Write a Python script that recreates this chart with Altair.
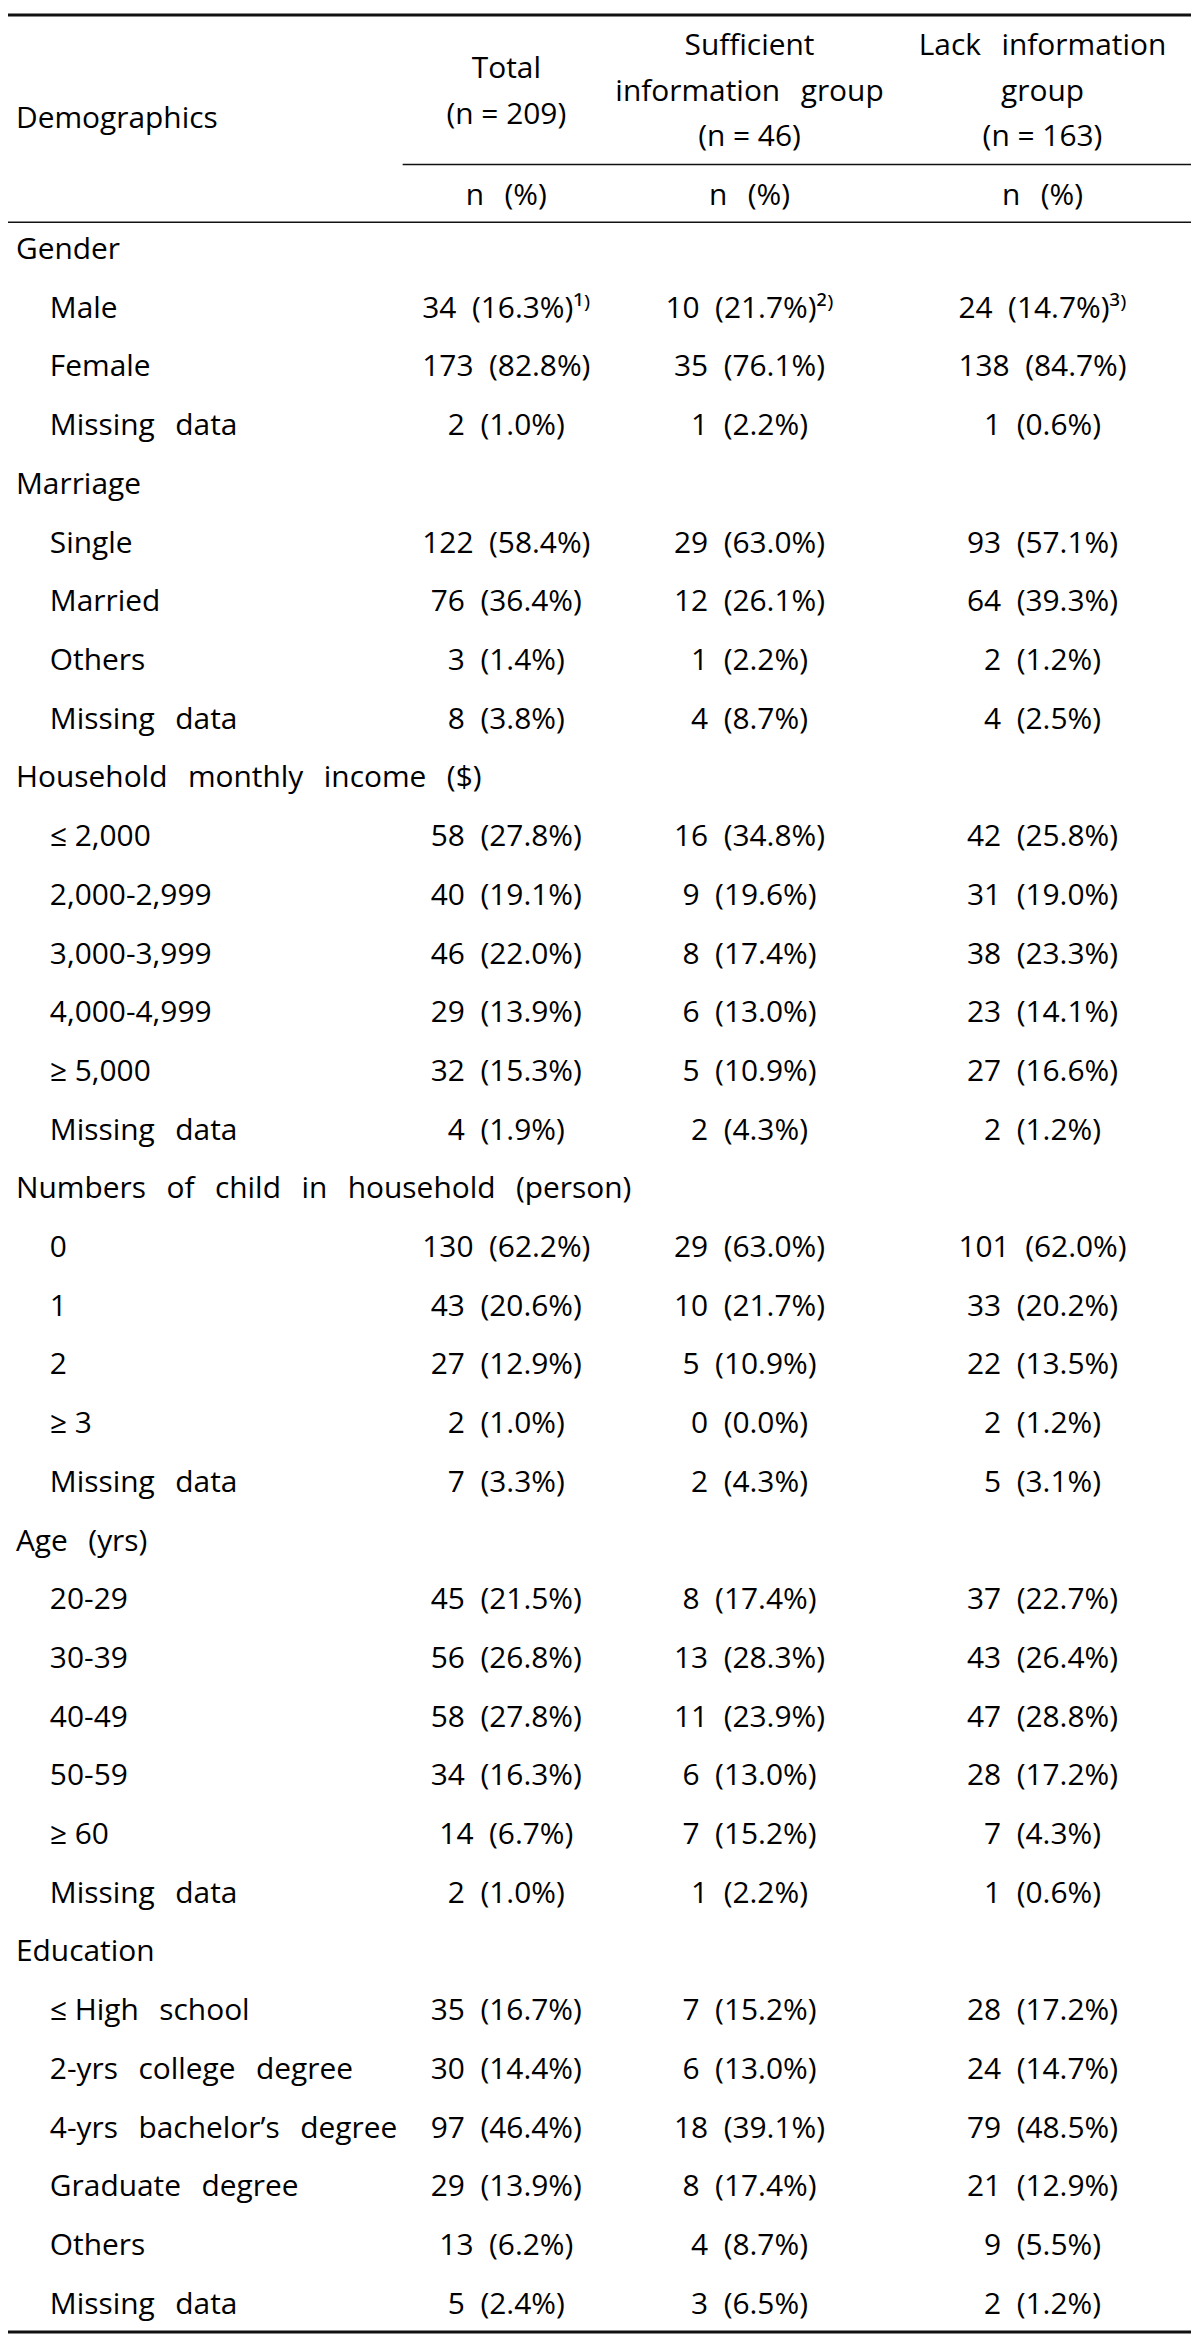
import altair as alt
import pandas as pd

# ---------------- data ----------------
labels = [
    "Gender", "Male", "Female", "Missing data",
    "Marriage", "Single", "Married", "Others", "Missing data",
    "Household monthly income ($)", "≤ 2,000", "2,000-2,999", "3,000-3,999", "4,000-4,999", "≥ 5,000", "Missing data",
    "Numbers of child in household (person)", "0", "1", "2", "≥ 3", "Missing data",
    "Age (yrs)", "20-29", "30-39", "40-49", "50-59", "≥ 60", "Missing data",
    "Education", "≤ High school", "2-yrs college degree", "4-yrs bachelor’s degree", "Graduate degree", "Others", "Missing data",
]
total_n = [None, 34, 173, 2, None, 122, 76, 3, 8, None, 58, 40, 46, 29, 32, 4, None, 130, 43, 27, 2, 7,
           None, 45, 56, 58, 34, 14, 2, None, 35, 30, 97, 29, 13, 5]
total_pct = [None, 16.3, 82.8, 1.0, None, 58.4, 36.4, 1.4, 3.8, None, 27.8, 19.1, 22.0, 13.9, 15.3, 1.9, None,
             62.2, 20.6, 12.9, 1.0, 3.3, None, 21.5, 26.8, 27.8, 16.3, 6.7, 1.0, None, 16.7, 14.4, 46.4, 13.9, 6.2, 2.4]
suff_n = [None, 10, 35, 1, None, 29, 12, 1, 4, None, 16, 9, 8, 6, 5, 2, None, 29, 10, 5, 0, 2,
          None, 8, 13, 11, 6, 7, 1, None, 7, 6, 18, 8, 4, 3]
suff_pct = [None, 21.7, 76.1, 2.2, None, 63.0, 26.1, 2.2, 8.7, None, 34.8, 19.6, 17.4, 13.0, 10.9, 4.3, None,
            63.0, 21.7, 10.9, 0.0, 4.3, None, 17.4, 28.3, 23.9, 13.0, 15.2, 2.2, None, 15.2, 13.0, 39.1, 17.4, 8.7, 6.5]
lack_n = [None, 24, 138, 1, None, 93, 64, 2, 4, None, 42, 31, 38, 23, 27, 2, None, 101, 33, 22, 2, 5,
          None, 37, 43, 47, 28, 7, 1, None, 28, 24, 79, 21, 9, 2]
lack_pct = [None, 14.7, 84.7, 0.6, None, 57.1, 39.3, 1.2, 2.5, None, 25.8, 19.0, 23.3, 14.1, 16.6, 1.2, None,
            62.0, 20.2, 13.5, 1.2, 3.1, None, 22.7, 26.4, 28.8, 17.2, 4.3, 0.6, None, 17.2, 14.7, 48.5, 12.9, 5.5, 1.2]
footnotes = {1: ["1)", "2)", "3)"]}

col_headers = [
    ["Total", "(n = 209)"],
    ["Sufficient", "information group", "(n = 46)"],
    ["Lack information", "group", "(n = 163)"],
]
unit_label = "n (%)"
stub_header = "Demographics"

# ---------------- layout ----------------
FONT = "Open Sans"
FS = 30
X_SECTION, X_ITEM = 16, 50
COL_X = [508, 752, 1046]
ROW0, ROW_STEP = 247, 58.9
W, H = 1188, 2329
SUP = {"1)": "¹⁾", "2)": "²⁾", "3)": "³⁾"}
NB = "\u00a0"
GAP = NB * 2 + "\u2009"


def wide(s):
    # wide word spacing between words; symbols keep a single space
    out = s
    for sym in ("≤ ", "≥ ", "= "):
        out = out.replace(sym, sym.strip() + "\u0001")
    out = out.replace(" =", "\u0002=")
    out = out.replace(" ", GAP).replace("\u0001", NB).replace("\u0002", NB)
    return out


label_rows, cell_rows = [], []
series = [(total_n, total_pct), (suff_n, suff_pct), (lack_n, lack_pct)]
for i, lab in enumerate(labels):
    y = ROW0 + i * ROW_STEP
    is_section = total_n[i] is None
    label_rows.append({"x": X_SECTION if is_section else X_ITEM, "y": y, "t": wide(lab)})
    if is_section:
        continue
    for c, (ns, ps) in enumerate(series):
        txt = f"{ns[i]}{NB * 2}({ps[i]:.1f}%)"
        if i in footnotes:
            txt += SUP[footnotes[i][c]]
        cell_rows.append({"x": COL_X[c], "y": y, "t": txt})

# header texts
hdr_center = []
line_y = {2: [65, 111], 3: [42, 88, 134]}
for c, lines in enumerate(col_headers):
    for k, ln in enumerate(lines):
        hdr_center.append({"x": COL_X[c], "y": line_y[len(lines)][k], "t": wide(ln)})
    hdr_center.append({"x": COL_X[c], "y": 193, "t": unit_label.replace(" ", GAP)})
label_rows.append({"x": X_SECTION, "y": 115, "t": stub_header})

rules = pd.DataFrame([
    {"x": 8, "x2": 1195, "y": 11, "w": 3},
    {"x": 404, "x2": 1195, "y": 161, "w": 1.5},
    {"x": 8, "x2": 1195, "y": 219, "w": 1.5},
    {"x": 8, "x2": 1195, "y": 2336, "w": 3},
])

xs = alt.Scale(domain=[8, 8 + W], nice=False, zero=False)
ys = alt.Scale(domain=[8, 8 + H], nice=False, zero=False, reverse=True)

left = alt.Chart(pd.DataFrame(label_rows)).mark_text(
    font=FONT, fontSize=FS, align="left", baseline="middle", color="#000000"
).encode(x=alt.X("x:Q", scale=xs, axis=None), y=alt.Y("y:Q", scale=ys, axis=None), text="t:N")

center = alt.Chart(pd.DataFrame(cell_rows + hdr_center)).mark_text(
    font=FONT, fontSize=FS, align="center", baseline="middle", color="#000000"
).encode(x=alt.X("x:Q", scale=xs, axis=None), y=alt.Y("y:Q", scale=ys, axis=None), text="t:N")

rule = alt.Chart(rules).mark_rule(color="#111111").encode(
    x=alt.X("x:Q", scale=xs, axis=None), x2="x2:Q",
    y=alt.Y("y:Q", scale=ys, axis=None),
    strokeWidth=alt.StrokeWidth("w:Q", scale=None, legend=None),
)

chart = alt.layer(rule, left, center).properties(
    width=W, height=H, padding=0, autosize=alt.AutoSizeParams(type="none")
).configure_view(stroke=None)

chart.save("out.html", embed_options={"renderer": "svg", "actions": False})
